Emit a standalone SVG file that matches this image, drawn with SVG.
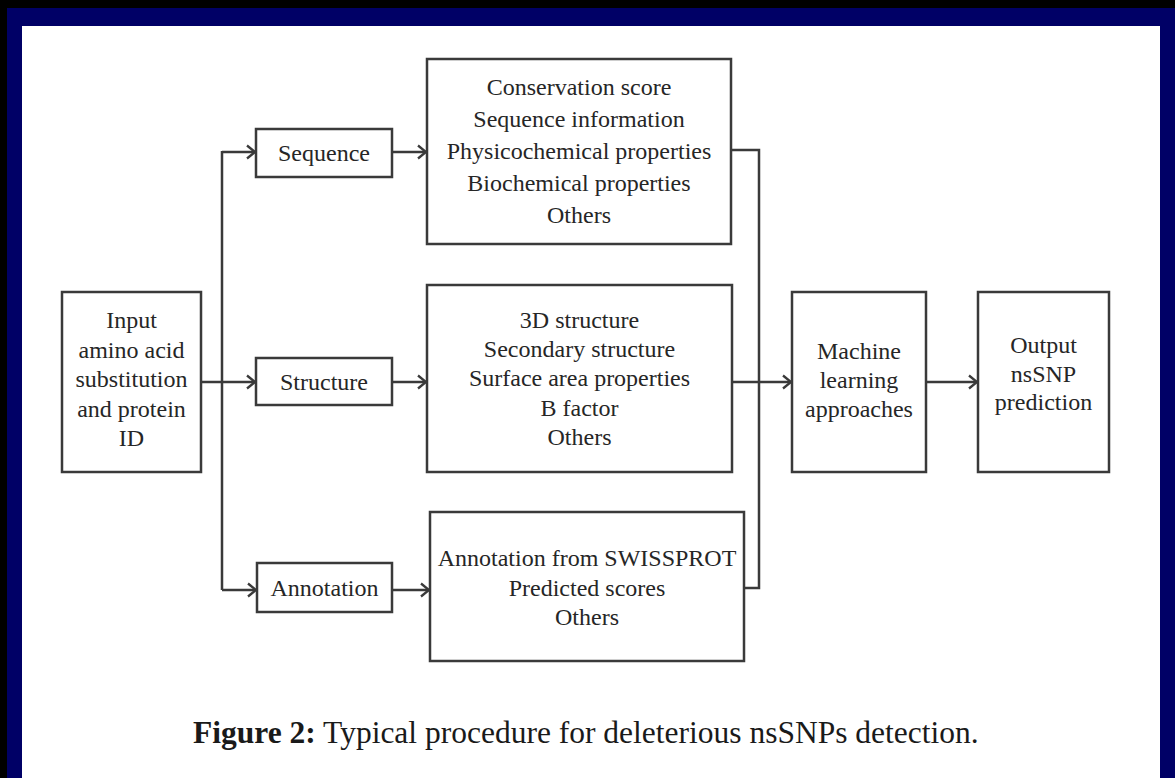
<svg xmlns="http://www.w3.org/2000/svg" width="1175" height="778" viewBox="0 0 1175 778">
<style>
.box{fill:#fff;stroke:#3a3a3a;stroke-width:2.5}
.t{font-family:"Liberation Serif","Times New Roman",serif;font-size:24px;fill:#262626;text-anchor:middle}
.c{fill:none;stroke:#3a3a3a;stroke-width:2.5}
.cap{font-family:"Liberation Serif","Times New Roman",serif;font-size:31.5px;fill:#1a1a1a}
</style>
<defs>
<marker id="ah" markerUnits="userSpaceOnUse" markerWidth="14" markerHeight="16" refX="11" refY="8" orient="auto">
<path d="M3,1.5 L11,8 L3,14.5" fill="none" stroke="#3a3a3a" stroke-width="2.3"/>
</marker>
</defs>
<rect x="0" y="0" width="1175" height="778" fill="#fff"/>
<g id="frame">
<rect x="0" y="0" width="1175" height="26" fill="#000066"/>
<rect x="0" y="0" width="22" height="778" fill="#000066"/>
<rect x="1160" y="0" width="15" height="778" fill="#000066"/>
<rect x="0" y="0" width="1175" height="8" fill="#000"/>
<rect x="0" y="0" width="7" height="778" fill="#000"/>
</g>
<g id="connectors">
<path class="c" d="M201,382 H255" marker-end="url(#ah)"/>
<path class="c" d="M222,151 V590"/>
<path class="c" d="M222,152 H255" marker-end="url(#ah)"/>
<path class="c" d="M222,590 H256" marker-end="url(#ah)"/>
<path class="c" d="M392,152 H426" marker-end="url(#ah)"/>
<path class="c" d="M392,382 H426" marker-end="url(#ah)"/>
<path class="c" d="M392,590 H429" marker-end="url(#ah)"/>
<path class="c" d="M731,150 H759 V588 H744"/>
<path class="c" d="M732,382 H791" marker-end="url(#ah)"/>
<path class="c" d="M926,382 H977" marker-end="url(#ah)"/>
</g>
<g id="input">
<rect class="box" x="62" y="292" width="139" height="180"/>
<text class="t"><tspan x="131.5" y="328">Input</tspan><tspan x="131.5" y="357.5">amino acid</tspan><tspan x="131.5" y="387">substitution</tspan><tspan x="131.5" y="416.5">and protein</tspan><tspan x="131.5" y="446">ID</tspan></text>
</g>
<g id="sequence">
<rect class="box" x="256" y="129" width="136" height="48"/>
<text class="t" x="324" y="161">Sequence</text>
</g>
<g id="structure">
<rect class="box" x="256" y="358" width="136" height="47"/>
<text class="t" x="324" y="390">Structure</text>
</g>
<g id="annotation">
<rect class="box" x="257" y="563" width="135" height="49"/>
<text class="t" x="324.5" y="596">Annotation</text>
</g>
<g id="seqfeatures">
<rect class="box" x="427" y="59" width="304" height="185"/>
<text class="t"><tspan x="579" y="95">Conservation score</tspan><tspan x="579" y="127">Sequence information</tspan><tspan x="579" y="159">Physicochemical properties</tspan><tspan x="579" y="191">Biochemical properties</tspan><tspan x="579" y="223">Others</tspan></text>
</g>
<g id="strfeatures">
<rect class="box" x="427" y="285" width="305" height="187"/>
<text class="t"><tspan x="579.5" y="328">3D structure</tspan><tspan x="579.5" y="357">Secondary structure</tspan><tspan x="579.5" y="386">Surface area properties</tspan><tspan x="579.5" y="416">B factor</tspan><tspan x="579.5" y="445">Others</tspan></text>
</g>
<g id="annfeatures">
<rect class="box" x="430" y="512" width="314" height="149"/>
<text class="t"><tspan x="587" y="566">Annotation from SWISSPROT</tspan><tspan x="587" y="596">Predicted scores</tspan><tspan x="587" y="625">Others</tspan></text>
</g>
<g id="ml">
<rect class="box" x="792" y="292" width="134" height="180"/>
<text class="t"><tspan x="859" y="359">Machine</tspan><tspan x="859" y="388">learning</tspan><tspan x="859" y="417">approaches</tspan></text>
</g>
<g id="output">
<rect class="box" x="978" y="292" width="131" height="180"/>
<text class="t"><tspan x="1043.5" y="353">Output</tspan><tspan x="1043.5" y="382">nsSNP</tspan><tspan x="1043.5" y="410">prediction</tspan></text>
</g>
<text class="cap" x="193" y="743"><tspan font-weight="bold">Figure 2:</tspan> Typical procedure for deleterious nsSNPs detection.</text>
</svg>
